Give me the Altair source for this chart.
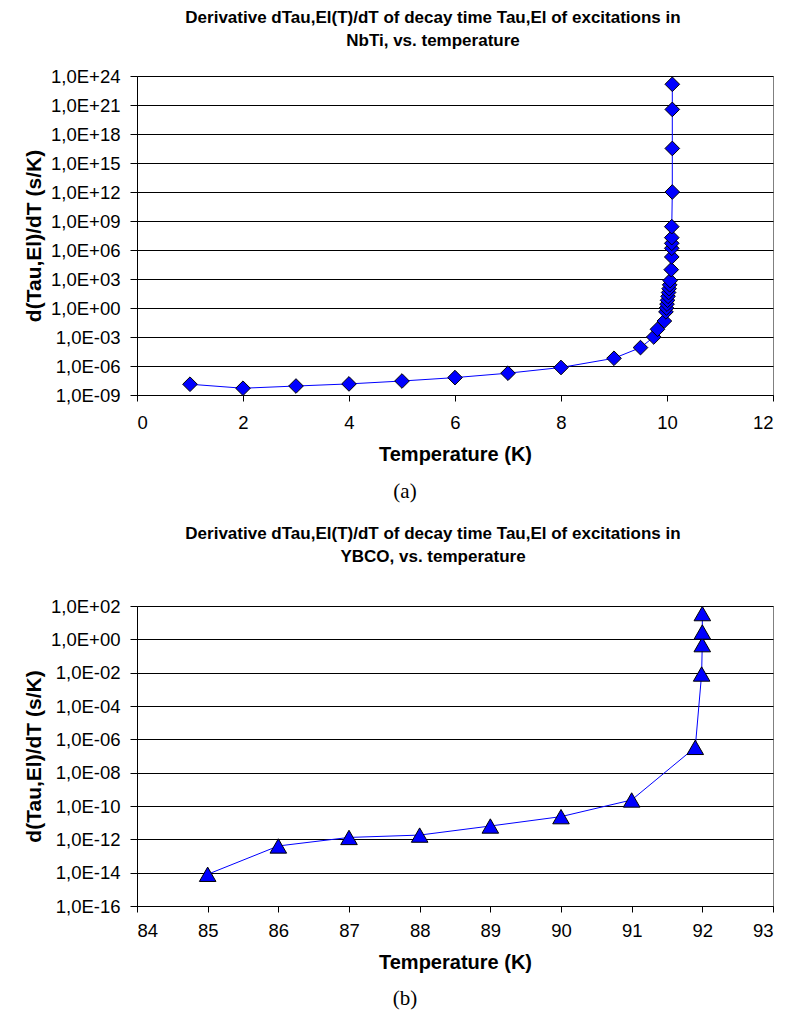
import altair as alt
import pandas as pd

# ---- Panel (a): NbTi ----
nbti_temp = [1, 2, 3, 4, 5, 6, 7, 8, 9, 9.5, 9.75, 9.82, 9.95, 9.98, 9.99, 10.0,
             10.01, 10.02, 10.03, 10.04, 10.05, 10.06, 10.08, 10.09, 10.09, 10.09,
             10.09, 10.09, 10.1, 10.1, 10.1, 10.1]
nbti_deriv = [1.3e-8, 5.0e-9, 8.5e-9, 1.4e-8, 2.8e-8, 6.3e-8, 1.8e-7, 7.0e-7,
              6.3e-6, 8.0e-5, 1.0e-3, 6.3e-3, 4.5e-2, 0.4, 1.0, 2.5, 6.3, 16,
              40, 100, 250, 680, 9.3e3, 1.9e5, 1.5e6, 4.9e6, 1.9e7, 2.6e8,
              1.0e12, 3.2e16, 3.5e20, 1.4e23]
nbti_xticks = [0, 2, 4, 6, 8, 10, 12]
nbti_yticks = [1e-9, 1e-6, 1e-3, 1e0, 1e3, 1e6, 1e9, 1e12, 1e15, 1e18, 1e21, 1e24]
nbti_title = ["Derivative dTau,El(T)/dT of decay time Tau,El of excitations in",
              "NbTi, vs. temperature"]

# ---- Panel (b): YBCO ----
ybco_temp = [85, 86, 87, 88, 89, 90, 91, 91.9, 91.99, 91.999, 91.9999, 92.0]
ybco_deriv = [8.0e-15, 4.0e-13, 1.3e-12, 1.8e-12, 6.3e-12, 2.3e-11, 2.3e-10,
              3.3e-7, 8.3e-3, 0.48, 2.75, 35]
ybco_xticks = [84, 85, 86, 87, 88, 89, 90, 91, 92, 93]
ybco_yticks = [1e-16, 1e-14, 1e-12, 1e-10, 1e-8, 1e-6, 1e-4, 1e-2, 1e0, 1e2]
ybco_title = ["Derivative dTau,El(T)/dT of decay time Tau,El of excitations in",
              "YBCO, vs. temperature"]

x_title = "Temperature (K)"
y_title = "d(Tau,El)/dT (s/K)"

label_expr = ("'1,0E' + (round(log(datum.value)/LN10) >= 0 ? '+' : '-') + "
              "(abs(round(log(datum.value)/LN10)) < 10 ? '0' : '') + "
              "abs(round(log(datum.value)/LN10))")

W = 636


def panel(temps, derivs, xticks, yticks, title, shape, size, caption, h, toff, capoff, lpad):
    df = pd.DataFrame({"T": temps, "D": derivs, "i": list(range(len(temps)))})
    x = alt.X("T:Q",
              scale=alt.Scale(domain=[xticks[0], xticks[-1]], nice=False, zero=False),
              axis=alt.Axis(values=xticks, title=x_title, grid=False,
                            labelPadding=lpad, titlePadding=13, tickSize=6,
                            titleFontSize=20))
    y = alt.Y("D:Q",
              scale=alt.Scale(type="log", domain=[yticks[0], yticks[-1]], nice=False),
              axis=alt.Axis(values=yticks, labelExpr=label_expr, title=y_title,
                            grid=True, gridColor="black", gridWidth=1,
                            tickSize=7, labelPadding=10, titlePadding=6,
                            titleFontSize=21))
    base = alt.Chart(df)
    line = base.mark_line(color="#0000FF", strokeWidth=1).encode(x=x, y=y, order="i:Q")
    pts = base.mark_point(shape=shape, size=size, filled=True, fill="#0000FF",
                          stroke="black", strokeWidth=1, opacity=1,
                          fillOpacity=1).encode(x=x, y=y)
    cap = alt.Chart(pd.DataFrame({"c": [caption]})).mark_text(
        font="Liberation Serif", fontSize=21, color="black", baseline="middle"
    ).encode(text="c:N", x=alt.value(W / 2 - 50), y=alt.value(h + capoff))
    return alt.layer(line, pts, cap).properties(
        width=W, height=h,
        title=alt.TitleParams(text=title, font="Liberation Sans",
                              fontSize=17, fontWeight="bold", anchor="middle",
                              dx=-22, offset=toff, lineHeight=23, color="black"))


top = panel(nbti_temp, nbti_deriv, nbti_xticks, nbti_yticks, nbti_title,
            "diamond", 215, "(a)", 319, 17, 97, 12)
bottom = panel(ybco_temp, ybco_deriv, ybco_xticks, ybco_yticks, ybco_title,
               "triangle-up", 275, "(b)", 300, 31, 93, 9)

chart = alt.vconcat(top, bottom, spacing=21).properties(
    padding={"left": 15, "top": 0, "right": 4, "bottom": 2},
    background="white"
).configure_view(stroke="#808080", strokeWidth=1).configure_axis(
    labelFont="Liberation Sans", labelFontSize=18.5, labelColor="black",
    titleFont="Liberation Sans", titleFontWeight="bold",
    titleColor="black", domainColor="black", tickColor="black", domainWidth=1
)

chart.save("out.html", embed_options={"renderer": "svg", "actions": False})
